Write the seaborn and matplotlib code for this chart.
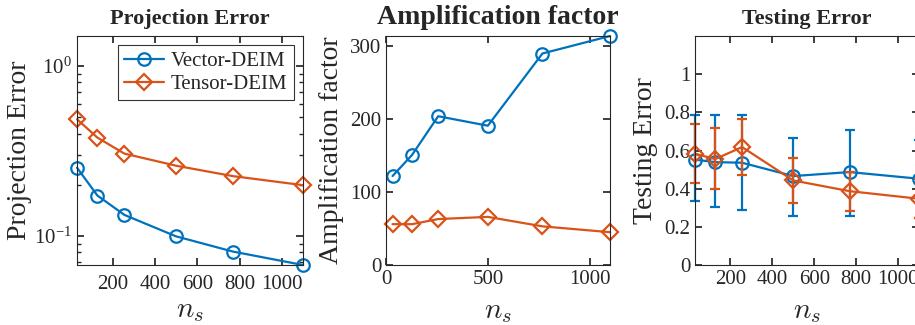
import numpy as np
import matplotlib
matplotlib.use("Agg")
import matplotlib.pyplot as plt
import matplotlib.ticker as mticker
import seaborn as sns

sns.set_theme(style="ticks")
plt.rcParams['font.family'] = ['Liberation Serif', 'DejaVu Serif']
plt.rcParams['mathtext.fontset'] = 'cm'

# ==========================================
# DATA
# ==========================================
ns = [32, 128, 256, 500, 768, 1100]

proj_vector = [0.252, 0.173, 0.133, 0.0995, 0.081, 0.0675]
proj_tensor = [0.486, 0.379, 0.305, 0.259, 0.225, 0.199]

amp_vector = [122, 151, 204, 191, 290, 314]
amp_tensor = [56, 56, 63, 66, 53, 45]

test_vector = [0.552, 0.539, 0.536, 0.466, 0.487, 0.452]
test_vector_lo = [0.338, 0.306, 0.289, 0.256, 0.259, 0.247]
test_vector_hi = [0.785, 0.785, 0.788, 0.666, 0.706, 0.657]
test_tensor = [0.583, 0.555, 0.618, 0.443, 0.387, 0.347]
test_tensor_lo = [0.431, 0.398, 0.473, 0.324, 0.285, 0.247]
test_tensor_hi = [0.741, 0.718, 0.767, 0.562, 0.487, 0.45]

series_names = ['Vector-DEIM', 'Tensor-DEIM']
BLUE = '#0072BD'
ORANGE = '#D95319'
AXC = '#262626'

fig = plt.figure(figsize=(9.15, 3.25), dpi=100)
bottom, height = 0.1846, 0.7046
ax1 = fig.add_axes([0.0842, bottom, 0.2470, height])
ax2 = fig.add_axes([0.4219, bottom, 0.2448, height])
ax3 = fig.add_axes([0.7596, bottom, 0.2450, height])


def draw(ax, y, color, marker, label=None):
    sns.lineplot(x=ns, y=y, ax=ax, color=color, marker=marker, lw=1.6,
                 markersize=9 if marker == 'o' else 7.8,
                 markerfacecolor='none', markeredgecolor=color,
                 markeredgewidth=1.6, label=label, clip_on=False,
                 legend=False)


def style(ax, xpad=7):
    ax.tick_params(direction='in', top=True, right=True, which='both',
                   colors=AXC, labelcolor=AXC, labelsize=15, length=5)
    ax.tick_params(which='minor', length=3)
    for s in ax.spines.values():
        s.set_color(AXC)
        s.set_linewidth(0.8)
    ax.set_xlabel(r'$n_s$', fontsize=21, color=AXC, labelpad=xpad)


# ---- Panel 1: projection error (log scale)
draw(ax1, proj_vector, BLUE, 'o', series_names[0])
draw(ax1, proj_tensor, ORANGE, 'D', series_names[1])
ax1.set_yscale('log')
ax1.set_ylim(0.0675, 1.5)
ax1.set_xlim(ns[0], ns[-1])
ax1.set_xticks([200, 400, 600, 800, 1000])
ax1.yaxis.set_major_locator(mticker.FixedLocator([0.1, 1.0]))
ax1.yaxis.set_major_formatter(mticker.FixedFormatter(
    [r'$\mathregular{10^{-1}}$', r'$\mathregular{10^{0}}$']))
ax1.yaxis.set_minor_locator(mticker.LogLocator(base=10, subs=np.arange(2, 10)))
ax1.yaxis.set_minor_formatter(mticker.NullFormatter())
ax1.set_title('Projection Error', fontsize=16, fontweight='bold', pad=9)
ax1.set_ylabel('Projection Error', fontsize=20, color=AXC, labelpad=2)
style(ax1, xpad=3)
ax1.tick_params(axis='x', pad=7)
leg = ax1.legend(loc='upper right', fontsize=15, frameon=True, fancybox=False,
                 handlelength=1.9, borderpad=0.3, labelspacing=0.15,
                 handletextpad=0.35, borderaxespad=0.45)
leg.get_frame().set_edgecolor('black')
leg.get_frame().set_linewidth(0.8)

# ---- Panel 2: amplification factor
draw(ax2, amp_vector, BLUE, 'o')
draw(ax2, amp_tensor, ORANGE, 'D')
ax2.set_xlim(0, 1100)
ax2.set_ylim(0, 314)
ax2.set_xticks([0, 500, 1000])
ax2.set_yticks([0, 100, 200, 300])
ax2.set_title('Amplification factor', fontsize=20, fontweight='bold', pad=9)
ax2.set_ylabel('Amplification factor', fontsize=20, color=AXC, labelpad=4)
style(ax2)

# ---- Panel 3: testing error with error bars
for mean, lo, hi, color, marker in [
        (test_vector, test_vector_lo, test_vector_hi, BLUE, 'o'),
        (test_tensor, test_tensor_lo, test_tensor_hi, ORANGE, 'D')]:
    err = [np.array(mean) - np.array(lo), np.array(hi) - np.array(mean)]
    ax3.errorbar(ns, mean, yerr=err, fmt='none', ecolor=color, elinewidth=1.6,
                 capsize=3.6, capthick=1.6, clip_on=False)
    draw(ax3, mean, color, marker)
ax3.set_xlim(ns[0], ns[-1])
ax3.set_ylim(0, 1.2)
ax3.set_xticks([200, 400, 600, 800, 1000])
ax3.set_yticks([0, 0.2, 0.4, 0.6, 0.8, 1.0])
ax3.yaxis.set_major_formatter(mticker.FormatStrFormatter('%g'))
ax3.set_title('Testing Error', fontsize=16, fontweight='bold', pad=9)
ax3.set_ylabel('Testing Error', fontsize=20, color=AXC, labelpad=4)
style(ax3)

fig.savefig('out.png', dpi=100)
